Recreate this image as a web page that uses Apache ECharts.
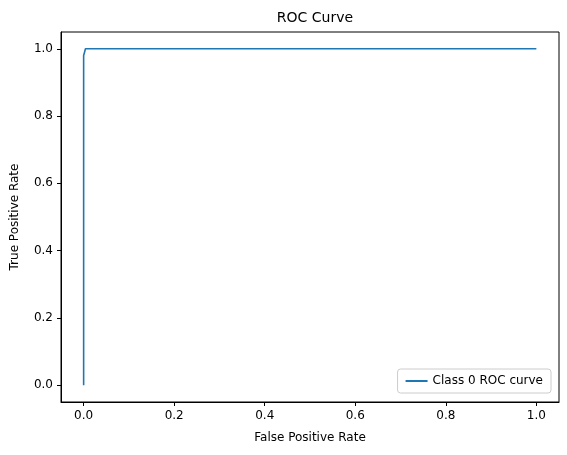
<!DOCTYPE html>
<html><head><meta charset="utf-8">
<script src="https://cdn.jsdelivr.net/npm/echarts@6/dist/echarts.min.js"></script>
<style>html,body{margin:0;background:#fff}#c{width:567px;height:455px}</style>
</head><body><div id="c"></div>
<script>
// ROC curve points
var fpr = [0, 0, 0.002, 0.004, 1.0];
var tpr = [0, 0.98, 0.99, 1.0, 1.0];
var ticks = [0, 0.2, 0.4, 0.6, 0.8, 1.0];

var chart = echarts.init(document.getElementById('c'));
var font = 'DejaVu Sans';
var tickStyle = {show: true, length: 4, inside: false, customValues: ticks, lineStyle: {color: '#000'}};
var labelStyle = {color: '#000', fontSize: 12, fontFamily: font, customValues: ticks,
    formatter: function(v){ return v.toFixed(1); }};
var lineStyle = {show: true, onZero: false, lineStyle: {color: '#000', width: 1}};

chart.setOption({
    animation: false,
    title: {text: 'ROC Curve', left: 310, top: 6, textAlign: 'center',
        textStyle: {fontFamily: font, fontWeight: 'normal', fontSize: 14, color: '#000'}},
    grid: {left: 61, right: 8, top: 32, bottom: 53, outerBoundsMode: 'none', containLabel: false,
        show: true, borderColor: '#000', borderWidth: 1},
    xAxis: {type: 'value', min: -0.05, max: 1.05,
        axisLine: lineStyle, axisTick: tickStyle, splitLine: {show: false}, axisLabel: labelStyle,
        name: 'False Positive Rate', nameLocation: 'middle', nameGap: 30,
        nameTextStyle: {color: '#000', fontSize: 12, fontFamily: font}},
    yAxis: {type: 'value', min: -0.05, max: 1.05,
        axisLine: lineStyle, axisTick: tickStyle, splitLine: {show: false}, axisLabel: labelStyle,
        name: 'True Positive Rate', nameLocation: 'middle', nameGap: 40,
        nameTextStyle: {color: '#000', fontSize: 12, fontFamily: font}},
    legend: {
        right: 16, bottom: 62, orient: 'vertical',
        itemWidth: 22, itemHeight: 2, icon: 'rect',
        padding: [6, 8], borderColor: '#ccc', borderWidth: 1, borderRadius: 3,
        textStyle: {fontFamily: font, fontSize: 12, color: '#000'},
        data: ['Class 0 ROC curve']
    },
    series: [{
        name: 'Class 0 ROC curve', type: 'line',
        data: fpr.map(function(x, i){ return [x, tpr[i]]; }),
        showSymbol: false, lineStyle: {color: '#1f77b4', width: 1.6}, itemStyle: {color: '#1f77b4'}
    }]
});
</script></body></html>
